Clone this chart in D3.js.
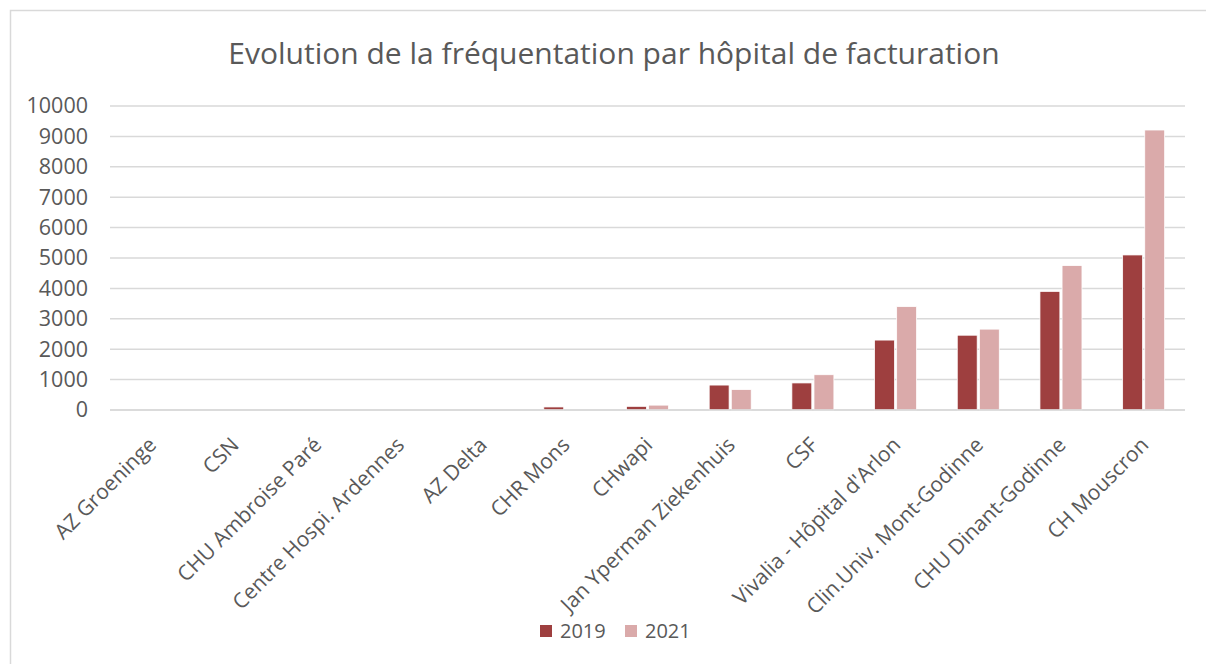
<!DOCTYPE html>
<html>
<head>
<meta charset="utf-8">
<script src="https://cdn.jsdelivr.net/npm/d3@7"></script>
<style>
  body { margin: 0; background: #fff; }
  text { font-family: "Open Sans", sans-serif; fill: #595959; }
</style>
</head>
<body>
<script>
// donnees
var hopitaux = ["AZ Groeninge", "CSN", "CHU Ambroise Paré", "Centre Hospi. Ardennes", "AZ Delta",
  "CHR Mons", "CHwapi", "Jan Yperman Ziekenhuis", "CSF", "Vivalia - Hôpital d'Arlon",
  "Clin.Univ. Mont-Godinne", "CHU Dinant-Godinne", "CH Mouscron"]
var series = ["2019", "2021"]
var valeurs2019 = [0, 0, 0, 0, 0, 100, 120, 820, 890, 2300, 2460, 3900, 5100]
var valeurs2021 = [0, 0, 0, 0, 0, 0, 160, 670, 1160, 3400, 2660, 4750, 9210]
var ticksY = [0, 1000, 2000, 3000, 4000, 5000, 6000, 7000, 8000, 9000, 10000]

var width = 1206
var height = 664
var margin = { top: 106, bottom: 254, left: 110, right: 21 }
var couleurs = { "2019": "#9e3f3f", "2021": "#daaaaa" }

var svg = d3.select("body").append("svg")
  .attr("width", width)
  .attr("height", height)

// cadre du graphique
svg.append("rect")
  .attr("x", 10.5).attr("y", 10.5)
  .attr("width", width).attr("height", height)
  .attr("fill", "none")
  .attr("stroke", "#d9d9d9")
  .attr("stroke-width", 1.5)

// titre
svg.append("text")
  .attr("x", 614).attr("y", 64)
  .attr("text-anchor", "middle")
  .style("font-size", "30px")
  .text("Evolution de la fréquentation par hôpital de facturation")

var escalaX = d3.scaleBand()
  .domain(hopitaux)
  .range([margin.left, width - margin.right])

var escalaSerie = d3.scaleBand()
  .domain(series)
  .range([0, 42])
  .paddingInner(0.1)

var escalaY = d3.scaleLinear()
  .domain([0, 10000])
  .range([height - margin.bottom, margin.top])

// grille
svg.append("g")
  .selectAll("line")
  .data(ticksY)
  .enter()
  .append("line")
  .attr("x1", margin.left)
  .attr("x2", width - margin.right)
  .attr("y1", d => escalaY(d))
  .attr("y2", d => escalaY(d))
  .attr("stroke", "#d9d9d9")
  .attr("stroke-width", 1.5)

// eje Y
var ejeY = d3.axisLeft(escalaY)
  .tickValues(ticksY)
  .tickSize(0)
  .tickPadding(22)
  .tickFormat(d3.format("d"))

var gY = svg.append("g")
  .attr("transform", "translate(" + margin.left + ",0)")
  .call(ejeY)
gY.select(".domain").remove()
gY.selectAll("text")
  .style("font-size", "21.5px")
  .style("font-family", "'Open Sans', sans-serif")
  .attr("fill", "#595959")

// barras
var datos = []
hopitaux.forEach(function (h, i) {
  datos.push({ hopital: h, serie: "2019", valor: valeurs2019[i] })
  datos.push({ hopital: h, serie: "2021", valor: valeurs2021[i] })
})

svg.append("g")
  .selectAll("rect")
  .data(datos)
  .enter()
  .append("rect")
  .attr("x", d => escalaX(d.hopital) + escalaX.bandwidth() / 2 - 21 + escalaSerie(d.serie))
  .attr("width", escalaSerie.bandwidth())
  .attr("y", d => escalaY(d.valor))
  .attr("height", d => escalaY(0) - escalaY(d.valor))
  .attr("fill", d => couleurs[d.serie])
  .attr("stroke", "#fff")
  .attr("stroke-width", 0.75)

// eje X (linea base)
svg.append("line")
  .attr("x1", margin.left)
  .attr("x2", width - margin.right)
  .attr("y1", escalaY(0))
  .attr("y2", escalaY(0))
  .attr("stroke", "#d9d9d9")
  .attr("stroke-width", 1.5)

// etiquetas X giradas
svg.append("g")
  .selectAll("text")
  .data(hopitaux)
  .enter()
  .append("text")
  .attr("text-anchor", "end")
  .attr("dy", "0.35em")
  .style("font-size", "21px")
  .attr("transform", d => "translate(" + (escalaX(d) + escalaX.bandwidth() / 2 + 1) + "," + 441 + ") rotate(-45)")
  .text(d => d)

// leyenda
var leyenda = svg.append("g")
  .selectAll("g")
  .data(series)
  .enter()
  .append("g")
  .attr("transform", (d, i) => "translate(" + (540 + i * 85) + ",625)")

leyenda.append("rect")
  .attr("width", 12).attr("height", 12)
  .attr("fill", d => couleurs[d])

leyenda.append("text")
  .attr("x", 20).attr("y", 6)
  .attr("dy", "0.35em")
  .style("font-size", "20px")
  .text(d => d)
</script>
</body>
</html>
